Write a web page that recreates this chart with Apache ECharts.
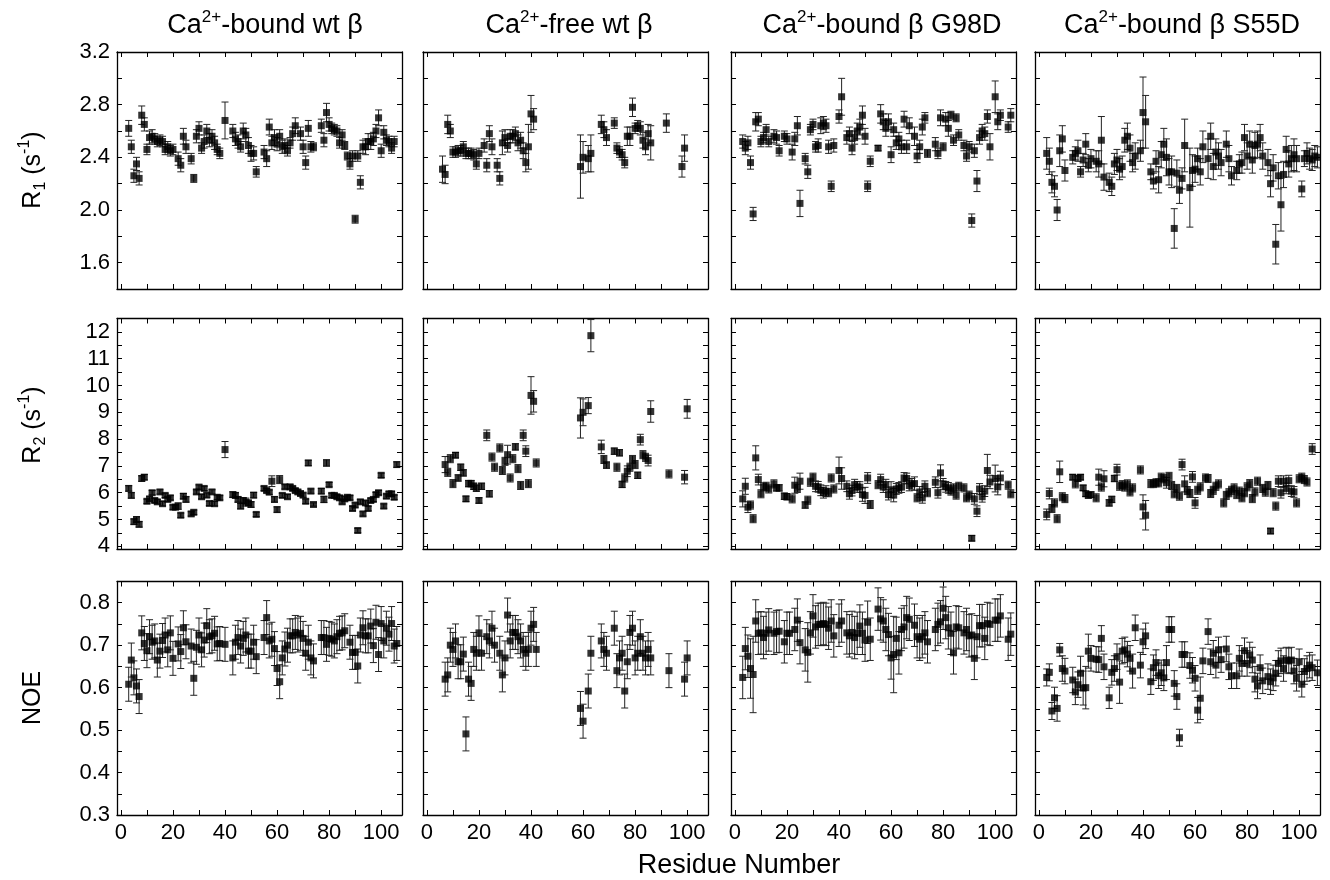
<!DOCTYPE html>
<html><head><meta charset="utf-8">
<script src="https://cdn.jsdelivr.net/npm/echarts@6/dist/echarts.min.js"></script>
<style>html,body{margin:0;padding:0;background:#fff}#c{width:1330px;height:880px}</style>
</head><body><div id="c"></div>
<script>
// ---------- tick / label values ----------
const residueTicks = [0,10,20,30,40,50,60,70,80,90,100];
const residueLabels = [0,20,40,60,80,100];
const r1Ticks = [1.6,1.8,2.0,2.2,2.4,2.6,2.8,3.0,3.2];
const r1Labels = [1.6,2.0,2.4,2.8,3.2];
const r2Ticks = [4,4.5,5,5.5,6,6.5,7,7.5,8,8.5,9,9.5,10,10.5,11,11.5,12];
const r2Labels = [4,5,6,7,8,9,10,11,12];
const noeTicks = [0.3,0.35,0.4,0.45,0.5,0.55,0.6,0.65,0.7,0.75,0.8];
const noeLabels = [0.3,0.4,0.5,0.6,0.7,0.8];

// ---------- data: [residue, value, error] ----------
const R1_boundWt = [[3,2.62,.06],[4,2.48,.05],[5,2.26,.05],[6,2.35,.05],[7,2.24,.05],[8,2.72,.07],[9,2.65,.05],[10,2.46,.04],[11,2.55,.05],[12,2.56,.05],[13,2.54,.04],[14,2.52,.04],[15,2.53,.04],[16,2.52,.04],[17,2.46,.04],[18,2.48,.04],[19,2.45,.04],[20,2.46,.04],[22,2.39,.05],[23,2.34,.05],[24,2.56,.06],[25,2.48,.05],[27,2.39,.04],[28,2.24,.03],[29,2.56,.05],[30,2.62,.05],[31,2.47,.04],[32,2.52,.05],[33,2.60,.05],[34,2.53,.05],[35,2.56,.05],[36,2.51,.05],[37,2.46,.04],[38,2.43,.04],[40,2.68,.14],[43,2.60,.05],[44,2.54,.05],[45,2.52,.05],[46,2.48,.04],[47,2.60,.06],[48,2.57,.05],[49,2.49,.06],[50,2.43,.06],[51,2.43,.05],[52,2.29,.04],[55,2.44,.05],[56,2.39,.06],[57,2.63,.06],[58,2.51,.05],[59,2.55,.06],[60,2.50,.05],[61,2.56,.05],[62,2.48,.05],[63,2.49,.05],[64,2.45,.04],[65,2.51,.04],[66,2.58,.05],[67,2.64,.06],[69,2.58,.05],[70,2.48,.05],[71,2.36,.05],[72,2.62,.06],[73,2.48,.04],[74,2.48,.03],[77,2.64,.05],[78,2.53,.05],[79,2.74,.07],[80,2.65,.05],[81,2.62,.04],[82,2.61,.04],[83,2.60,.04],[84,2.51,.04],[85,2.57,.04],[86,2.49,.03],[87,2.41,.03],[88,2.35,.04],[89,2.41,.04],[90,1.93,.03],[91,2.41,.04],[92,2.21,.05],[93,2.48,.05],[94,2.48,.06],[95,2.52,.06],[96,2.52,.06],[97,2.54,.05],[98,2.60,.05],[99,2.70,.06],[100,2.45,.05],[101,2.59,.05],[102,2.53,.04],[103,2.52,.04],[104,2.47,.04],[105,2.52,.04]];
const R1_freeWt = [[6,2.31,.1],[7,2.27,.07],[8,2.65,.07],[9,2.60,.05],[10,2.44,.04],[11,2.44,.04],[12,2.45,.04],[13,2.45,.04],[14,2.48,.04],[15,2.43,.04],[16,2.43,.04],[17,2.43,.04],[18,2.42,.04],[19,2.35,.04],[20,2.43,.04],[22,2.49,.05],[23,2.34,.05],[24,2.58,.06],[25,2.48,.06],[27,2.34,.05],[28,2.24,.05],[29,2.51,.09],[30,2.55,.06],[31,2.49,.05],[32,2.56,.05],[33,2.56,.05],[34,2.58,.05],[35,2.51,.06],[36,2.53,.06],[37,2.45,.06],[38,2.36,.07],[39,2.48,.17],[40,2.73,.14],[41,2.69,.08],[59,2.33,.24],[60,2.40,.12],[62,2.39,.1],[63,2.43,.14],[67,2.65,.07],[68,2.61,.06],[69,2.55,.06],[72,2.66,.04],[73,2.47,.04],[74,2.44,.04],[75,2.42,.04],[76,2.36,.04],[77,2.56,.07],[78,2.56,.07],[79,2.78,.07],[80,2.62,.04],[81,2.64,.04],[82,2.62,.05],[83,2.53,.06],[84,2.48,.06],[85,2.58,.07],[86,2.51,.13],[92,2.66,.07],[98,2.33,.08],[99,2.47,.1]];
const R1_G98D = [[3,2.52,.05],[4,2.47,.05],[5,2.51,.05],[6,2.36,.05],[7,1.97,.05],[8,2.67,.07],[9,2.69,.05],[10,2.52,.04],[11,2.55,.04],[12,2.61,.04],[13,2.52,.04],[15,2.56,.05],[16,2.55,.05],[17,2.45,.04],[19,2.56,.04],[20,2.54,.04],[22,2.44,.06],[23,2.54,.05],[24,2.64,.07],[25,2.05,.1],[27,2.39,.04],[28,2.29,.05],[29,2.61,.04],[30,2.65,.04],[31,2.48,.04],[32,2.49,.05],[33,2.64,.06],[34,2.66,.05],[35,2.64,.05],[36,2.48,.05],[37,2.18,.04],[38,2.49,.05],[40,2.71,.05],[41,2.86,.14],[43,2.55,.05],[44,2.58,.05],[45,2.47,.05],[46,2.55,.05],[47,2.60,.06],[48,2.63,.06],[49,2.72,.07],[50,2.56,.06],[51,2.18,.04],[52,2.37,.04],[55,2.47,.02],[56,2.73,.07],[57,2.67,.06],[58,2.62,.06],[59,2.67,.06],[60,2.42,.06],[61,2.61,.05],[62,2.51,.05],[63,2.54,.05],[64,2.48,.05],[65,2.69,.06],[66,2.48,.05],[67,2.64,.06],[69,2.56,.07],[70,2.41,.05],[71,2.48,.05],[72,2.63,.06],[73,2.70,.04],[74,2.43,.03],[77,2.50,.05],[78,2.43,.04],[79,2.70,.06],[80,2.48,.03],[81,2.69,.05],[82,2.62,.06],[83,2.72,.03],[84,2.53,.04],[85,2.70,.03],[86,2.57,.04],[88,2.49,.04],[89,2.41,.04],[90,2.48,.04],[91,1.92,.05],[92,2.45,.05],[93,2.22,.08],[94,2.55,.05],[95,2.60,.05],[96,2.58,.05],[97,2.71,.05],[98,2.48,.1],[100,2.86,.12],[101,2.67,.06],[102,2.72,.04],[105,2.63,.04],[106,2.72,.05]];
const R1_S55D = [[3,2.43,.12],[4,2.37,.1],[5,2.21,.08],[6,2.18,.08],[7,2.00,.08],[8,2.45,.12],[9,2.54,.1],[10,2.30,.08],[13,2.40,.05],[14,2.43,.05],[15,2.45,.08],[16,2.29,.04],[17,2.38,.05],[18,2.50,.08],[19,2.34,.05],[20,2.39,.07],[22,2.37,.08],[23,2.35,.1],[24,2.53,.18],[25,2.25,.1],[27,2.21,.07],[28,2.18,.07],[29,2.35,.08],[30,2.38,.08],[31,2.31,.08],[32,2.33,.08],[33,2.53,.09],[34,2.56,.1],[35,2.47,.1],[36,2.36,.07],[37,2.41,.1],[39,2.45,.08],[40,2.74,.27],[41,2.67,.2],[43,2.29,.06],[44,2.22,.06],[45,2.37,.08],[46,2.23,.1],[47,2.42,.1],[48,2.50,.12],[49,2.40,.14],[50,2.29,.1],[51,2.29,.12],[52,1.86,.15],[53,2.28,.1],[54,2.15,.1],[55,2.24,.08],[56,2.49,.2],[58,2.17,.3],[59,2.30,.12],[60,2.31,.1],[61,2.39,.08],[62,2.29,.1],[63,2.48,.12],[65,2.39,.15],[66,2.56,.1],[67,2.33,.1],[68,2.44,.1],[69,2.41,.1],[70,2.36,.1],[72,2.50,.1],[73,2.39,.1],[74,2.26,.07],[76,2.30,.07],[77,2.35,.07],[78,2.36,.08],[79,2.55,.1],[80,2.41,.1],[81,2.50,.1],[82,2.38,.1],[83,2.49,.1],[84,2.50,.1],[85,2.55,.1],[86,2.41,.1],[88,2.36,.1],[89,2.20,.1],[90,2.32,.1],[91,1.74,.15],[92,2.26,.1],[93,2.04,.2],[94,2.27,.1],[95,2.46,.1],[96,2.35,.1],[97,2.39,.1],[98,2.42,.12],[99,2.39,.1],[101,2.16,.06],[102,2.39,.06],[103,2.43,.08],[104,2.39,.08],[105,2.38,.08],[106,2.41,.08],[107,2.40,.08]];

const R2_boundWt = [[3,6.16,.1],[4,5.90,.1],[5,4.92,.1],[6,5.0,.1],[7,4.82,.1],[8,6.53,.1],[9,6.58,.1],[10,5.68,.08],[11,5.77,.08],[12,6.0,.08],[13,5.71,.08],[14,5.66,.08],[15,6.03,.08],[16,5.59,.08],[17,5.90,.08],[18,5.75,.08],[19,5.81,.08],[20,5.46,.08],[21,5.46,.08],[22,5.5,.12],[23,5.16,.08],[24,5.87,.1],[25,5.75,.1],[27,5.21,.08],[28,5.27,.08],[29,6.03,.08],[30,6.21,.08],[31,5.85,.08],[32,6.16,.08],[33,5.91,.08],[34,5.60,.08],[35,6.03,.08],[36,5.59,.08],[37,5.83,.08],[38,5.81,.08],[40,7.61,.3],[43,5.93,.1],[44,5.90,.1],[45,5.75,.1],[46,5.5,.1],[47,5.71,.1],[48,5.65,.15],[49,5.62,.1],[50,5.56,.1],[51,5.91,.1],[52,5.19,.08],[55,6.16,.08],[56,6.08,.08],[57,6.02,.08],[58,6.43,.2],[59,5.75,.1],[60,5.37,.1],[61,6.49,.15],[62,5.90,.08],[63,6.22,.08],[64,5.85,.08],[65,6.22,.08],[66,6.16,.08],[67,6.08,.08],[68,6.03,.08],[69,5.97,.08],[70,5.91,.08],[71,5.68,.08],[72,7.11,.1],[73,6.06,.08],[74,5.56,.06],[77,6.06,.1],[78,5.75,.12],[79,7.11,.12],[80,6.30,.08],[81,5.90,.08],[82,5.90,.08],[83,5.85,.08],[84,5.81,.08],[85,5.66,.08],[86,5.77,.08],[87,5.83,.08],[88,5.81,.08],[89,5.41,.08],[90,5.54,.08],[91,4.59,.08],[92,5.66,.08],[93,5.21,.08],[94,5.62,.08],[95,5.41,.08],[96,5.71,.08],[97,5.75,.08],[98,5.93,.08],[99,6.0,.08],[100,6.65,.08],[101,5.5,.08],[102,5.87,.08],[103,5.96,.08],[104,5.96,.08],[105,5.83,.08],[106,7.05,.1]];
const R2_freeWt = [[7,7.05,.3],[8,6.76,.15],[9,7.27,.15],[10,6.34,.15],[11,7.40,.1],[12,6.55,.12],[13,6.95,.12],[14,6.74,.12],[15,5.77,.1],[16,6.34,.12],[17,6.34,.12],[18,6.24,.12],[19,6.17,.12],[20,5.71,.1],[21,6.24,.12],[23,8.14,.2],[24,5.96,.12],[25,7.33,.15],[26,6.95,.15],[28,7.67,.15],[29,6.83,.15],[30,7.17,.15],[31,7.42,.35],[32,6.55,.15],[33,7.27,.15],[34,7.71,.12],[35,6.90,.15],[36,6.27,.15],[37,8.14,.2],[38,7.55,.2],[39,6.34,.15],[40,9.63,.7],[41,9.41,.4],[42,7.11,.15],[59,8.79,.75],[60,9.0,.5],[62,9.25,.3],[63,11.86,.6],[67,7.71,.25],[68,7.24,.15],[69,7.03,.12],[72,7.55,.12],[73,6.95,.15],[74,7.49,.12],[75,6.31,.12],[76,6.55,.15],[77,6.80,.2],[78,6.95,.15],[79,7.24,.15],[80,7.05,.15],[81,6.65,.12],[82,7.98,.2],[83,7.42,.15],[84,7.32,.15],[85,7.20,.2],[86,9.03,.4],[93,6.70,.15],[99,6.58,.25],[100,9.13,.35]];
const R2_G98D = [[3,5.77,.3],[4,6.24,.3],[5,5.46,.2],[6,5.54,.15],[7,5.03,.15],[8,7.30,.45],[9,6.49,.2],[10,5.96,.15],[11,6.22,.15],[12,6.24,.15],[13,6.14,.15],[15,6.33,.15],[16,6.18,.12],[17,6.18,.12],[19,5.87,.12],[20,5.85,.12],[22,5.77,.15],[23,6.28,.3],[24,6.16,.15],[25,6.43,.3],[27,5.54,.12],[28,5.72,.15],[29,6.39,.15],[30,6.58,.15],[31,6.24,.2],[32,6.22,.2],[33,6.09,.2],[34,6.0,.2],[35,6.06,.2],[36,6.0,.15],[37,6.55,.15],[38,6.14,.15],[40,6.83,.5],[41,6.53,.4],[43,6.24,.2],[44,5.96,.2],[45,6.08,.2],[46,6.30,.2],[47,6.22,.2],[48,6.21,.2],[49,5.93,.25],[50,5.90,.3],[51,6.55,.2],[52,5.56,.15],[55,6.30,.15],[56,6.49,.2],[57,6.21,.2],[58,6.30,.2],[59,5.93,.2],[60,6.11,.3],[61,5.91,.25],[62,6.14,.2],[63,6.18,.2],[64,6.21,.2],[65,6.55,.2],[66,6.53,.2],[67,6.27,.2],[68,6.33,.2],[69,6.34,.25],[70,5.81,.15],[71,6.03,.2],[72,5.81,.2],[73,6.24,.2],[74,6.0,.15],[77,6.39,.2],[78,6.0,.2],[79,6.74,.3],[80,6.33,.2],[81,6.22,.2],[82,6.18,.2],[83,6.06,.15],[84,6.18,.15],[85,5.91,.15],[86,6.24,.15],[88,6.18,.15],[89,5.81,.15],[90,5.91,.15],[91,4.30,.1],[92,5.77,.2],[93,5.31,.2],[94,6.14,.2],[95,5.85,.2],[96,6.06,.2],[97,6.83,.6],[98,6.40,.25],[100,6.53,.5],[101,6.22,.3],[102,6.55,.25],[105,6.28,.15],[106,5.96,.15]];
const R2_S55D = [[3,5.19,.2],[4,5.97,.2],[5,5.41,.15],[6,5.62,.15],[7,5.03,.15],[8,6.78,.4],[9,5.85,.15],[10,5.78,.15],[13,6.58,.1],[14,6.33,.15],[15,6.53,.1],[16,6.58,.1],[17,6.18,.1],[18,5.96,.1],[19,5.90,.1],[20,5.93,.1],[22,5.81,.15],[23,6.58,.3],[24,6.21,.15],[25,6.52,.3],[27,5.62,.12],[28,5.75,.12],[29,6.53,.12],[30,6.86,.2],[31,6.24,.15],[32,6.30,.15],[33,6.21,.15],[34,6.33,.15],[35,6.03,.15],[36,6.18,.15],[39,6.85,.15],[40,5.47,.45],[41,5.16,.55],[43,6.34,.15],[44,6.34,.15],[45,6.37,.15],[46,6.37,.15],[47,6.58,.15],[48,6.52,.15],[49,6.37,.2],[50,6.61,.15],[51,6.27,.15],[52,5.96,.15],[53,6.16,.15],[54,5.87,.15],[55,7.05,.2],[56,6.33,.3],[57,6.08,.15],[58,5.97,.15],[59,6.59,.2],[60,5.62,.2],[61,6.09,.15],[62,6.22,.15],[64,6.55,.15],[65,6.53,.15],[66,5.97,.15],[67,6.09,.15],[68,6.24,.15],[69,6.33,.15],[71,5.62,.15],[72,5.90,.15],[73,6.0,.15],[74,6.09,.15],[75,6.18,.15],[76,5.93,.15],[77,6.06,.15],[78,5.81,.15],[79,6.0,.15],[80,6.22,.15],[81,6.34,.15],[82,5.78,.15],[83,6.03,.15],[84,6.43,.15],[86,6.16,.15],[87,6.02,.15],[88,6.27,.15],[89,4.57,.1],[90,6.0,.15],[91,5.50,.15],[92,6.43,.2],[93,6.0,.2],[94,6.43,.2],[95,6.16,.2],[96,6.45,.2],[97,6.06,.2],[98,6.03,.2],[99,5.62,.15],[100,6.52,.15],[101,6.58,.15],[102,6.49,.15],[103,6.40,.15],[105,7.63,.2]];

const NOE_boundWt = [[3,.608,.04],[4,.665,.04],[5,.623,.04],[6,.604,.04],[7,.579,.04],[8,.729,.04],[9,.704,.04],[10,.687,.04],[11,.720,.04],[12,.707,.04],[13,.710,.04],[14,.665,.04],[15,.686,.04],[16,.711,.04],[17,.724,.04],[18,.689,.04],[19,.729,.04],[20,.669,.04],[22,.703,.04],[23,.685,.04],[24,.741,.04],[25,.708,.04],[27,.698,.04],[28,.622,.04],[29,.695,.04],[30,.724,.04],[31,.689,.04],[32,.712,.04],[33,.746,.04],[34,.720,.04],[35,.722,.04],[36,.728,.04],[37,.703,.04],[38,.704,.04],[40,.702,.04],[43,.670,.04],[44,.707,.04],[45,.718,.04],[46,.698,.04],[47,.716,.04],[48,.724,.04],[49,.686,.04],[50,.686,.04],[51,.707,.04],[52,.673,.04],[55,.718,.04],[56,.765,.04],[57,.710,.04],[58,.714,.04],[59,.692,.04],[60,.645,.04],[61,.614,.04],[62,.670,.04],[63,.691,.04],[64,.700,.04],[65,.722,.04],[66,.722,.04],[67,.730,.04],[68,.724,.04],[69,.728,.04],[70,.716,.04],[71,.681,.04],[72,.707,.04],[73,.670,.04],[74,.663,.04],[77,.718,.04],[78,.718,.04],[79,.702,.04],[80,.716,.04],[81,.714,.04],[82,.710,.04],[83,.720,.04],[84,.728,.04],[85,.729,.04],[86,.734,.04],[88,.707,.04],[89,.683,.04],[90,.683,.04],[91,.651,.04],[92,.724,.04],[93,.741,.04],[94,.722,.04],[95,.722,.04],[96,.745,.04],[97,.699,.04],[98,.754,.04],[99,.678,.04],[100,.751,.04],[101,.710,.04],[102,.740,.04],[103,.726,.04],[104,.751,.04],[105,.698,.04],[106,.704,.04]];
const NOE_freeWt = [[7,.620,.04],[8,.630,.04],[9,.700,.04],[10,.690,.04],[11,.710,.04],[12,.661,.04],[13,.661,.04],[14,.679,.04],[15,.491,.04],[16,.620,.04],[17,.610,.04],[18,.690,.04],[19,.681,.04],[20,.729,.04],[21,.681,.04],[23,.720,.04],[24,.710,.04],[25,.740,.04],[26,.700,.04],[28,.681,.04],[29,.630,.04],[30,.670,.04],[31,.771,.04],[32,.710,.04],[33,.730,.04],[34,.730,.04],[35,.720,.04],[36,.710,.04],[37,.690,.04],[38,.681,.04],[39,.690,.04],[40,.740,.04],[41,.749,.04],[42,.690,.04],[59,.551,.04],[60,.521,.04],[62,.592,.04],[63,.681,.04],[67,.710,.04],[68,.690,.04],[69,.681,.04],[72,.740,.04],[73,.640,.04],[74,.670,.04],[75,.681,.04],[76,.592,.04],[77,.661,.04],[78,.730,.04],[79,.740,.04],[80,.670,.04],[81,.681,.04],[82,.720,.04],[83,.681,.04],[84,.670,.04],[85,.690,.04],[86,.670,.04],[93,.640,.04],[99,.620,.04],[100,.670,.04]];
const NOE_G98D = [[3,.624,.05],[4,.692,.05],[5,.674,.05],[6,.645,.07],[7,.631,.09],[8,.757,.05],[9,.728,.05],[10,.729,.05],[11,.718,.05],[12,.728,.05],[13,.736,.05],[15,.728,.05],[16,.732,.05],[17,.733,.05],[19,.708,.05],[20,.728,.05],[21,.728,.05],[23,.737,.05],[24,.759,.05],[25,.706,.05],[27,.689,.05],[28,.683,.07],[29,.729,.05],[30,.769,.05],[31,.743,.05],[32,.749,.05],[33,.749,.05],[34,.751,.05],[35,.749,.05],[36,.740,.05],[37,.757,.05],[38,.722,.05],[40,.747,.05],[41,.757,.05],[43,.729,.05],[44,.722,.05],[45,.730,.05],[46,.718,.05],[47,.728,.05],[48,.745,.05],[49,.728,.05],[50,.712,.05],[51,.754,.05],[52,.714,.05],[55,.785,.05],[56,.762,.05],[57,.757,.05],[58,.737,.05],[59,.725,.05],[60,.670,.05],[61,.678,.09],[62,.716,.05],[63,.682,.05],[64,.737,.05],[65,.743,.05],[66,.765,.05],[67,.761,.05],[69,.747,.05],[70,.720,.05],[71,.714,.05],[72,.720,.05],[73,.729,.05],[74,.708,.05],[77,.737,.05],[78,.749,.05],[79,.755,.05],[80,.787,.05],[81,.765,.05],[82,.741,.05],[83,.728,.05],[84,.682,.05],[85,.743,.05],[86,.741,.05],[88,.729,.05],[89,.737,.05],[90,.722,.05],[91,.724,.05],[92,.669,.05],[93,.720,.05],[94,.746,.05],[95,.746,.05],[96,.716,.05],[97,.751,.05],[98,.749,.05],[100,.759,.05],[101,.759,.05],[102,.769,.05],[105,.714,.05],[106,.726,.05]];
const NOE_S55D = [[3,.624,.02],[4,.636,.02],[5,.545,.02],[6,.576,.025],[7,.551,.03],[8,.689,.015],[9,.645,.03],[10,.639,.03],[13,.618,.03],[14,.590,.03],[15,.607,.03],[16,.634,.04],[17,.599,.04],[18,.600,.05],[19,.686,.04],[20,.669,.03],[22,.667,.03],[23,.666,.03],[24,.716,.03],[25,.649,.03],[27,.576,.025],[28,.636,.03],[29,.645,.03],[30,.673,.03],[31,.613,.05],[32,.686,.03],[33,.689,.03],[34,.679,.03],[35,.669,.03],[36,.639,.04],[37,.741,.03],[39,.653,.03],[40,.708,.03],[41,.722,.03],[43,.614,.03],[44,.647,.03],[45,.659,.03],[46,.628,.03],[47,.635,.03],[48,.623,.03],[49,.659,.04],[50,.737,.03],[51,.737,.03],[52,.610,.03],[53,.579,.03],[54,.482,.02],[55,.678,.03],[56,.678,.03],[58,.652,.03],[59,.641,.03],[60,.622,.03],[61,.547,.03],[62,.575,.05],[63,.663,.03],[65,.732,.03],[66,.661,.03],[67,.681,.03],[68,.653,.03],[69,.689,.03],[70,.666,.03],[72,.691,.03],[73,.649,.03],[74,.628,.03],[76,.628,.03],[77,.669,.03],[78,.657,.03],[79,.687,.03],[80,.657,.03],[81,.677,.03],[82,.665,.03],[83,.620,.03],[84,.604,.03],[85,.647,.03],[86,.616,.03],[88,.626,.03],[89,.614,.03],[90,.623,.03],[91,.634,.03],[92,.657,.03],[93,.663,.03],[94,.645,.03],[95,.665,.03],[96,.663,.03],[97,.665,.03],[98,.639,.03],[99,.622,.03],[100,.661,.03],[101,.608,.03],[102,.638,.03],[103,.645,.03],[104,.653,.03],[105,.647,.03],[107,.635,.03]];

const panelTitles = ['{n|Ca}{sup|2+}{n|-bound wt β}', '{n|Ca}{sup|2+}{n|-free wt β}', '{n|Ca}{sup|2+}{n|-bound β G98D}', '{n|Ca}{sup|2+}{n|-bound β S55D}'];
const rowNames = ['{n|R}{sub|1}{n| (s}{sup|-1}{n|)}', '{n|R}{sub|2}{n| (s}{sup|-1}{n|)}', '{n|NOE}'];
const xName = 'Residue Number';

// ---------- layout ----------
const FONT = '"Liberation Sans", Arial, sans-serif';
const colLeft = [117, 423, 731, 1035];
const colWidth = 285;
const rowTop = [52, 318.5, 581.5];
const rowHeight = [237, 230.5, 233.5];
const rowCfg = [
  {min: 1.4, max: 3.2, ticks: r1Ticks, labels: r1Labels, dec: 1},
  {min: 3.9, max: 12.5, ticks: r2Ticks, labels: r2Labels, dec: 0},
  {min: 0.3, max: 0.85, ticks: noeTicks, labels: noeLabels, dec: 1}
];
const panels = [
  [R1_boundWt, R1_freeWt, R1_G98D, R1_S55D],
  [R2_boundWt, R2_freeWt, R2_G98D, R2_S55D],
  [NOE_boundWt, NOE_freeWt, NOE_G98D, NOE_S55D]
];

const grids = [], xAxes = [], yAxes = [], series = [];
const lineStyle = {color: '#000', width: 1.3};
for (let r = 0; r < 3; r++) {
  for (let c = 0; c < 4; c++) {
    const i = r * 4 + c;
    grids.push({left: colLeft[c], top: rowTop[r], width: colWidth, height: rowHeight[r], containLabel: false, outerBoundsMode: 'none'});
    const cfg = rowCfg[r];
    ['bottom', 'top'].forEach(pos => {
      xAxes.push({
        type: 'value', gridIndex: i, position: pos, min: -1.5, max: 108,
        axisLine: {show: true, onZero: false, lineStyle},
        axisTick: {show: true, inside: true, length: 5, customValues: residueTicks, lineStyle: {color: '#000', width: 1}},
        axisLabel: {show: pos === 'bottom' && r === 2, customValues: residueLabels, fontSize: 22, color: '#000', fontFamily: FONT, margin: 7},
        splitLine: {show: false}
      });
    });
    ['left', 'right'].forEach(pos => {
      yAxes.push({
        type: 'value', gridIndex: i, position: pos, min: cfg.min, max: cfg.max,
        axisLine: {show: true, onZero: false, lineStyle},
        axisTick: {show: true, inside: true, length: 5, customValues: cfg.ticks, lineStyle: {color: '#000', width: 1}},
        axisLabel: {show: pos === 'left' && c === 0, customValues: cfg.labels, fontSize: 22, color: '#000', fontFamily: FONT, margin: 7,
          formatter: v => v.toFixed(cfg.dec)},
        splitLine: {show: false}
      });
    });
    const d = panels[r][c];
    series.push({
      type: 'custom', xAxisIndex: 2 * i, yAxisIndex: 2 * i, clip: true, z: 2,
      data: d.map(p => [p[0], p[1] - p[2], p[1] + p[2]]),
      encode: {x: 0, y: [1, 2]},
      renderItem: (params, api) => {
        const x = api.value(0);
        const p1 = api.coord([x, api.value(1)]);
        const p2 = api.coord([x, api.value(2)]);
        const w = 3.5;
        const st = {stroke: '#222', lineWidth: 1, fill: null};
        return {type: 'group', children: [
          {type: 'line', shape: {x1: p1[0], y1: p1[1], x2: p2[0], y2: p2[1]}, style: st},
          {type: 'line', shape: {x1: p1[0] - w, y1: p1[1], x2: p1[0] + w, y2: p1[1]}, style: st},
          {type: 'line', shape: {x1: p2[0] - w, y1: p2[1], x2: p2[0] + w, y2: p2[1]}, style: st}
        ]};
      }
    });
    series.push({
      type: 'scatter', xAxisIndex: 2 * i, yAxisIndex: 2 * i, z: 3,
      symbol: 'rect', symbolSize: 7,
      itemStyle: {color: '#000'},
      data: d.map(p => [p[0], p[1]])
    });
  }
}

const titleCenters = [265, 569, 882, 1182];
const graphics = [];
panelTitles.forEach((t, c) => {
  graphics.push({type: 'text', x: titleCenters[c], y: 26, style: {
    text: t, align: 'center', verticalAlign: 'middle',
    rich: {
      n: {fontSize: 27, fontFamily: FONT, fill: '#000', lineHeight: 34, verticalAlign: 'middle'},
      sup: {fontSize: 17, fontFamily: FONT, fill: '#000', lineHeight: 17, verticalAlign: 'top'}
    }
  }});
});
const nameCenters = [170, 425, 698];
rowNames.forEach((t, r) => {
  graphics.push({type: 'text', x: 33, y: nameCenters[r], rotation: Math.PI / 2, style: {
    text: t, align: 'center', verticalAlign: 'middle',
    rich: {
      n: {fontSize: 25, fontFamily: FONT, fill: '#000', lineHeight: 32, verticalAlign: 'middle'},
      sub: {fontSize: 16, fontFamily: FONT, fill: '#000', lineHeight: 16, verticalAlign: 'bottom'},
      sup: {fontSize: 16, fontFamily: FONT, fill: '#000', lineHeight: 16, verticalAlign: 'top'}
    }
  }});
});
graphics.push({type: 'text', x: 739, y: 866, style: {text: xName, align: 'center', verticalAlign: 'middle', fontSize: 27, fontFamily: FONT, fill: '#000'}});

const chart = echarts.init(document.getElementById('c'), null, {renderer: 'canvas'});
chart.setOption({
  animation: false,
  backgroundColor: '#fff',
  grid: grids,
  xAxis: xAxes,
  yAxis: yAxes,
  series: series,
  graphic: graphics
});
</script>
</body></html>
